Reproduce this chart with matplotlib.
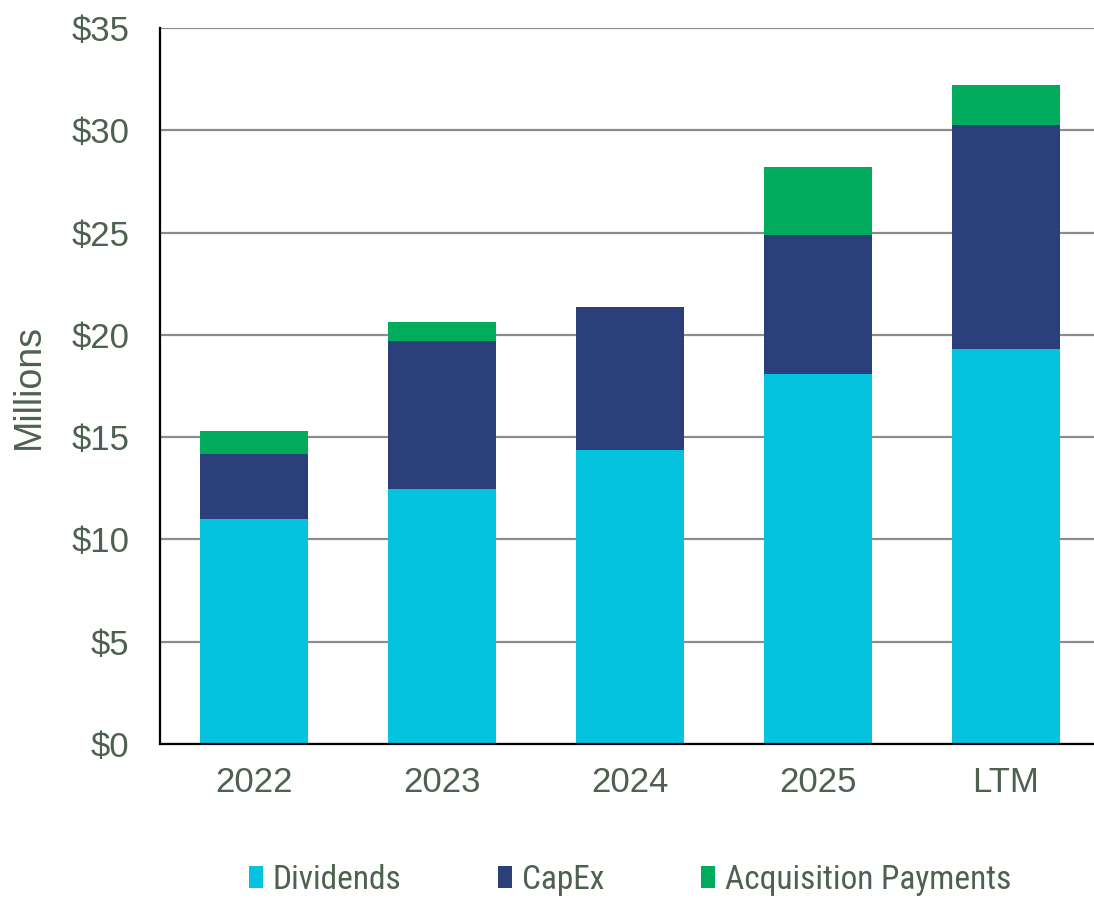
import matplotlib.pyplot as plt
import numpy as np

# Cash uses by period ($ millions)
periods = ["2022", "2023", "2024", "2025", "LTM"]
dividends = [11.0, 12.45, 14.35, 18.1, 19.3]
capex = [3.2, 7.25, 7.0, 6.8, 10.95]
acquisitions = [1.1, 0.95, 0.0, 3.3, 1.95]

text_color = "#4e6150"
colors = ["#05c3de", "#2b407a", "#00ab5b"]

plt.rcParams["font.family"] = ["Liberation Sans", "DejaVu Sans"]

fig = plt.figure(figsize=(10.94, 8.98), dpi=100)
ax = fig.add_axes([160 / 1094, 1 - 744 / 898, 940 / 1094, 716 / 898])

x = np.arange(len(periods))
width = 0.57
div = np.array(dividends)
cap = np.array(capex)
acq = np.array(acquisitions)

ax.bar(x, div, width, color=colors[0], label="Dividends", zorder=3)
ax.bar(x, cap, width, bottom=div, color=colors[1], label="CapEx", zorder=3)
ax.bar(x, acq, width, bottom=div + cap, color=colors[2],
       label="Acquisition Payments", zorder=3)

ax.set_xlim(-0.5, 4.5)
ax.set_ylim(0, 35)
ax.set_yticks(np.arange(0, 36, 5))
ax.set_yticklabels([f"${v}" for v in range(0, 36, 5)])
ax.set_xticks(x)
ax.set_xticklabels(periods)

ax.yaxis.grid(True, color="#8c8c8c", linewidth=1.6, zorder=0)
ax.set_axisbelow(True)
for side in ["top", "right"]:
    ax.spines[side].set_visible(False)
for side in ["left", "bottom"]:
    ax.spines[side].set_color("black")
    ax.spines[side].set_linewidth(1.6)
    ax.spines[side].set_zorder(4)

ax.tick_params(axis="both", length=0, labelsize=25, labelcolor=text_color)
ax.tick_params(axis="y", pad=22)
ax.tick_params(axis="x", pad=16)

ax.set_ylabel("Millions", fontsize=27, color=text_color, labelpad=18)

leg = ax.legend(loc="center", bbox_to_anchor=(0.5, -0.19), ncol=3, frameon=False,
                handlelength=0.42, handleheight=0.65, handletextpad=0.3,
                columnspacing=2.9,
                prop={"family": ["Liberation Sans Narrow", "Roboto Condensed",
                                 "Archivo Narrow", "Liberation Sans"],
                      "size": 24})
for t in leg.get_texts():
    t.set_color(text_color)

fig.savefig("out.png", dpi=100)
